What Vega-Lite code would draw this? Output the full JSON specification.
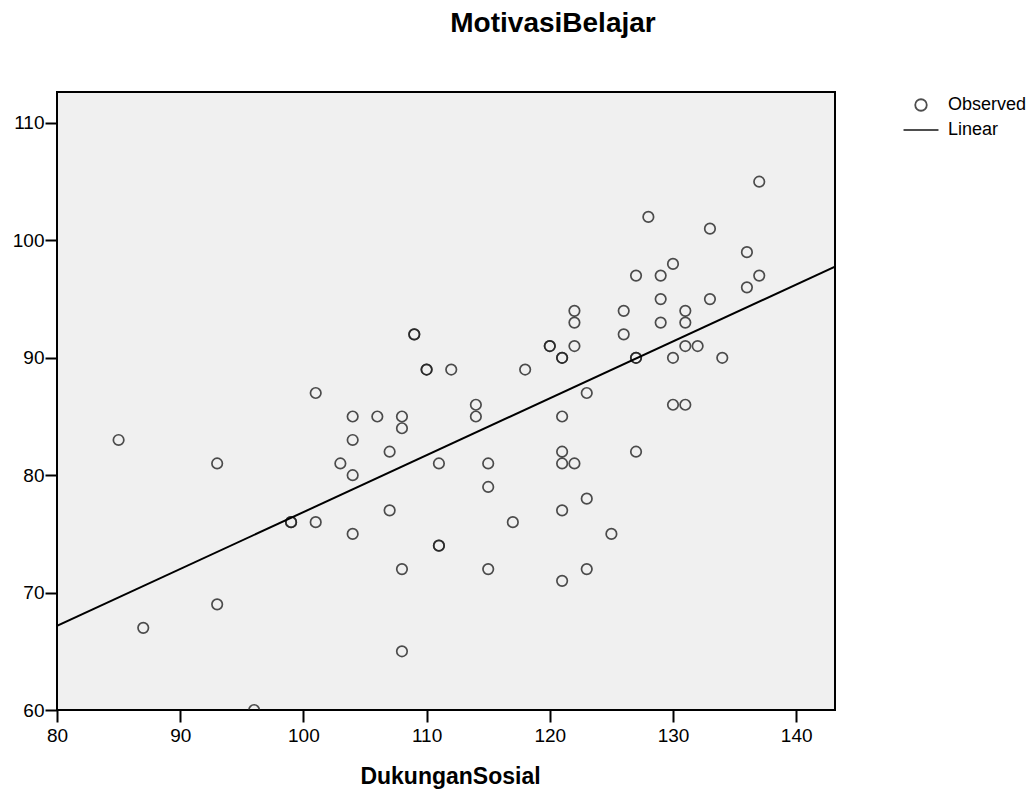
{
  "$schema": "https://vega.github.io/schema/vega-lite/v6.json",
  "width": 778,
  "height": 618,
  "autosize": {"type": "none"},
  "padding": {"left": 57, "top": 92, "right": 201, "bottom": 88},
  "background": "white",
  "title": {"text": "MotivasiBelajar", "fontSize": 28, "fontWeight": "bold", "font": "Liberation Sans", "color": "black", "anchor": "middle", "dx": 107, "offset": 54},
  "config": {
    "view": {"fill": "#f0f0f0", "stroke": "black", "strokeWidth": 2},
    "axis": {"grid": false, "domain": false, "labelFlush": false, "tickColor": "black", "tickSize": 12, "tickWidth": 2, "labelFont": "Liberation Sans", "labelFontSize": 19, "labelColor": "black", "titleFont": "Liberation Sans", "titleFontSize": 23, "titleFontWeight": "bold", "titleColor": "black"}
  },
  "data": {"values": [
    {"DukunganSosial": 85, "MotivasiBelajar": 83},
    {"DukunganSosial": 87, "MotivasiBelajar": 67},
    {"DukunganSosial": 93, "MotivasiBelajar": 81},
    {"DukunganSosial": 93, "MotivasiBelajar": 69},
    {"DukunganSosial": 96, "MotivasiBelajar": 60},
    {"DukunganSosial": 99, "MotivasiBelajar": 76},
    {"DukunganSosial": 99, "MotivasiBelajar": 76},
    {"DukunganSosial": 101, "MotivasiBelajar": 87},
    {"DukunganSosial": 101, "MotivasiBelajar": 76},
    {"DukunganSosial": 103, "MotivasiBelajar": 81},
    {"DukunganSosial": 104, "MotivasiBelajar": 85},
    {"DukunganSosial": 104, "MotivasiBelajar": 83},
    {"DukunganSosial": 104, "MotivasiBelajar": 80},
    {"DukunganSosial": 104, "MotivasiBelajar": 75},
    {"DukunganSosial": 106, "MotivasiBelajar": 85},
    {"DukunganSosial": 107, "MotivasiBelajar": 82},
    {"DukunganSosial": 107, "MotivasiBelajar": 77},
    {"DukunganSosial": 108, "MotivasiBelajar": 85},
    {"DukunganSosial": 108, "MotivasiBelajar": 84},
    {"DukunganSosial": 108, "MotivasiBelajar": 72},
    {"DukunganSosial": 108, "MotivasiBelajar": 65},
    {"DukunganSosial": 109, "MotivasiBelajar": 92},
    {"DukunganSosial": 109, "MotivasiBelajar": 92},
    {"DukunganSosial": 110, "MotivasiBelajar": 89},
    {"DukunganSosial": 110, "MotivasiBelajar": 89},
    {"DukunganSosial": 111, "MotivasiBelajar": 81},
    {"DukunganSosial": 111, "MotivasiBelajar": 74},
    {"DukunganSosial": 111, "MotivasiBelajar": 74},
    {"DukunganSosial": 112, "MotivasiBelajar": 89},
    {"DukunganSosial": 114, "MotivasiBelajar": 86},
    {"DukunganSosial": 114, "MotivasiBelajar": 85},
    {"DukunganSosial": 115, "MotivasiBelajar": 81},
    {"DukunganSosial": 115, "MotivasiBelajar": 79},
    {"DukunganSosial": 115, "MotivasiBelajar": 72},
    {"DukunganSosial": 117, "MotivasiBelajar": 76},
    {"DukunganSosial": 118, "MotivasiBelajar": 89},
    {"DukunganSosial": 120, "MotivasiBelajar": 91},
    {"DukunganSosial": 120, "MotivasiBelajar": 91},
    {"DukunganSosial": 121, "MotivasiBelajar": 90},
    {"DukunganSosial": 121, "MotivasiBelajar": 90},
    {"DukunganSosial": 121, "MotivasiBelajar": 85},
    {"DukunganSosial": 121, "MotivasiBelajar": 82},
    {"DukunganSosial": 121, "MotivasiBelajar": 81},
    {"DukunganSosial": 121, "MotivasiBelajar": 77},
    {"DukunganSosial": 121, "MotivasiBelajar": 71},
    {"DukunganSosial": 122, "MotivasiBelajar": 94},
    {"DukunganSosial": 122, "MotivasiBelajar": 93},
    {"DukunganSosial": 122, "MotivasiBelajar": 91},
    {"DukunganSosial": 122, "MotivasiBelajar": 81},
    {"DukunganSosial": 123, "MotivasiBelajar": 87},
    {"DukunganSosial": 123, "MotivasiBelajar": 78},
    {"DukunganSosial": 123, "MotivasiBelajar": 72},
    {"DukunganSosial": 125, "MotivasiBelajar": 75},
    {"DukunganSosial": 126, "MotivasiBelajar": 94},
    {"DukunganSosial": 126, "MotivasiBelajar": 92},
    {"DukunganSosial": 127, "MotivasiBelajar": 97},
    {"DukunganSosial": 127, "MotivasiBelajar": 90},
    {"DukunganSosial": 127, "MotivasiBelajar": 90},
    {"DukunganSosial": 127, "MotivasiBelajar": 82},
    {"DukunganSosial": 128, "MotivasiBelajar": 102},
    {"DukunganSosial": 129, "MotivasiBelajar": 97},
    {"DukunganSosial": 129, "MotivasiBelajar": 95},
    {"DukunganSosial": 129, "MotivasiBelajar": 93},
    {"DukunganSosial": 130, "MotivasiBelajar": 98},
    {"DukunganSosial": 130, "MotivasiBelajar": 90},
    {"DukunganSosial": 130, "MotivasiBelajar": 86},
    {"DukunganSosial": 131, "MotivasiBelajar": 94},
    {"DukunganSosial": 131, "MotivasiBelajar": 93},
    {"DukunganSosial": 131, "MotivasiBelajar": 91},
    {"DukunganSosial": 131, "MotivasiBelajar": 86},
    {"DukunganSosial": 132, "MotivasiBelajar": 91},
    {"DukunganSosial": 133, "MotivasiBelajar": 101},
    {"DukunganSosial": 133, "MotivasiBelajar": 95},
    {"DukunganSosial": 134, "MotivasiBelajar": 90},
    {"DukunganSosial": 136, "MotivasiBelajar": 99},
    {"DukunganSosial": 136, "MotivasiBelajar": 96},
    {"DukunganSosial": 137, "MotivasiBelajar": 105},
    {"DukunganSosial": 137, "MotivasiBelajar": 97}
  ]},
  "layer": [
    {
      "mark": {"type": "point", "filled": false, "size": 110, "strokeWidth": 1.7, "color": "#222222", "opacity": 0.8, "clip": true},
      "encoding": {
        "x": {"field": "DukunganSosial", "type": "quantitative", "scale": {"domain": [80, 143.15], "nice": false, "zero": false}, "axis": {"values": [80, 90, 100, 110, 120, 130, 140], "title": "DukunganSosial", "titleY": 73, "titleBaseline": "alphabetic", "titleX": 393, "labelPadding": 4}},
        "y": {"field": "MotivasiBelajar", "type": "quantitative", "scale": {"domain": [60, 112.64], "nice": false, "zero": false}, "axis": {"values": [60, 70, 80, 90, 100, 110], "title": null, "labelPadding": 1}},
        "shape": {"datum": "Observed", "type": "nominal", "scale": {"domain": ["Observed", "Linear"], "range": ["circle", "M-3.03,0H3.03"]},
          "legend": {"title": null, "orient": "none", "legendX": 855, "legendY": 4, "padding": 0, "symbolSize": 133, "symbolStrokeColor": "#222222", "symbolStrokeWidth": 1.8, "symbolFillColor": "transparent", "labelFont": "Liberation Sans", "labelFontSize": 18, "labelColor": "black", "labelOffset": 18, "rowPadding": 6}}
      }
    },
    {
      "transform": [{"regression": "MotivasiBelajar", "on": "DukunganSosial", "extent": [80, 143.15]}],
      "mark": {"type": "line", "color": "black", "strokeWidth": 2, "clip": true},
      "encoding": {
        "x": {"field": "DukunganSosial", "type": "quantitative"},
        "y": {"field": "MotivasiBelajar", "type": "quantitative"}
      }
    }
  ]
}
